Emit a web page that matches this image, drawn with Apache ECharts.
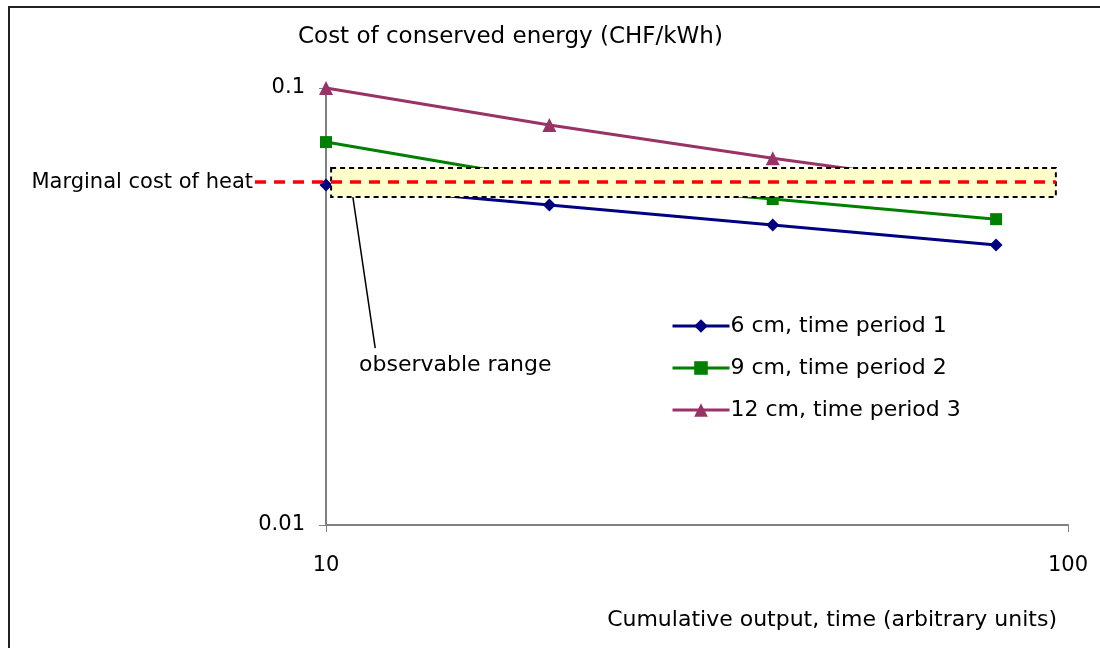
<!DOCTYPE html>
<html><head><meta charset="utf-8">
<script src="https://cdn.jsdelivr.net/npm/echarts@6/dist/echarts.min.js"></script>
<style>html,body{margin:0;padding:0;background:#fff}#c{width:1100px;height:648px}</style>
</head><body><div id="c"></div>
<script>
const xValues = [10, 20, 40, 80];
const s1 = [0.0600, 0.0540, 0.0486, 0.0437];
const s2 = [0.0752, 0.0615, 0.0557, 0.0501];
const s3 = [0.1000, 0.0823, 0.0691, 0.0588];
const seriesNames = ['6 cm, time period 1', '9 cm, time period 2', '12 cm, time period 3'];
const marginalCost = 0.0609;
const rangeX = [10.16, 96.3];
const rangeY = [0.0563, 0.0656];
const leader = [[10.87, 0.0563], [11.65, 0.0254]];
const xTicks = [10, 100];
const yTicks = [0.01, 0.1];

const F = 'DejaVu Sans, sans-serif';
const FS = 21;
const chart = echarts.init(document.getElementById('c'));
const pair = arr => xValues.map((x, i) => [x, arr[i]]);
const mk = (name, data, color, symbol, size) => ({
  name, type: 'line', data: pair(data), symbol, symbolSize: size,
  lineStyle: { color, width: 3 }, itemStyle: { color }, z: 3
});
chart.setOption({
  animation: false,
  grid: { left: 326, right: 32, top: 88, bottom: 123 },
  xAxis: {
    type: 'log', logBase: 10, min: 10, max: 100,
    axisLine: { lineStyle: { color: '#808080', width: 2 } },
    axisTick: { length: 7, lineStyle: { color: '#808080' } },
    axisLabel: { fontFamily: F, fontSize: FS, color: '#000', margin: 30, formatter: v => xTicks.includes(Math.round(v)) ? String(Math.round(v)) : '' },
    splitLine: { show: false }, minorTick: { show: false }
  },
  yAxis: {
    type: 'log', logBase: 10, min: 0.01, max: 0.1,
    axisLine: { show: true, lineStyle: { color: '#808080', width: 2 } },
    axisTick: { show: true, length: 7, lineStyle: { color: '#808080' } },
    axisLabel: { fontFamily: F, fontSize: FS, color: '#000', margin: 21, formatter: v => { const t = yTicks.find(t => Math.abs(t - v) < 1e-9); return t !== undefined ? String(t) : ''; } },
    splitLine: { show: false }
  },
  legend: {
    left: 666, top: 310, orient: 'vertical', itemGap: 20, itemWidth: 57, itemHeight: 17,
    lineStyle: { width: 3 },
    textStyle: { fontFamily: F, fontSize: 22, color: '#000', padding: [0, 0, 0, -4] },
    data: seriesNames
  },
  series: [
    mk(seriesNames[0], s1, '#000080', 'diamond', 13),
    mk(seriesNames[1], s2, '#008000', 'rect', 12),
    mk(seriesNames[2], s3, '#993366', 'triangle', 14),
    { name: 'leader', type: 'line', data: leader, symbol: 'none', lineStyle: { color: '#000', width: 1.5 }, z: 3, silent: true }
  ]
});
const p = (x, y) => chart.convertToPixel({ gridIndex: 0 }, [x, y]);
const b0 = p(rangeX[0], rangeY[1]), b1 = p(rangeX[1], rangeY[0]);
const m = p(10, marginalCost);
chart.setOption({
  graphic: [
    { type: 'rect', shape: { x: 9, y: 7, width: 1200, height: 800 }, style: { fill: 'none', stroke: '#222', lineWidth: 2 }, z: 1 },
    { type: 'rect', shape: { x: b0[0], y: b0[1], width: b1[0] - b0[0], height: b1[1] - b0[1] }, style: { fill: '#FFFFCC', stroke: '#000', lineWidth: 2, lineDash: [5, 4] }, z: 10 },
    { type: 'line', shape: { x1: 255, y1: m[1], x2: b1[0], y2: m[1] }, style: { stroke: '#FF0000', lineWidth: 3.5, lineDash: [11, 8] }, z: 11 },
    { type: 'text', style: { text: 'Marginal cost of heat', x: 253, y: m[1], align: 'right', verticalAlign: 'middle', font: FS + 'px ' + F, fill: '#000' }, z: 12 },
    { type: 'text', style: { text: 'observable range', x: 359, y: 365, verticalAlign: 'middle', font: '22px ' + F, fill: '#000' }, z: 12 },
    { type: 'text', style: { text: 'Cost of conserved energy (CHF/kWh)', x: 298, y: 37, verticalAlign: 'middle', font: '23px ' + F, fill: '#000' }, z: 12 },
    { type: 'text', style: { text: 'Cumulative output, time (arbitrary units)', x: 1057, y: 620, align: 'right', verticalAlign: 'middle', font: '22px ' + F, fill: '#000' }, z: 12 }
  ]
});
</script></body></html>
